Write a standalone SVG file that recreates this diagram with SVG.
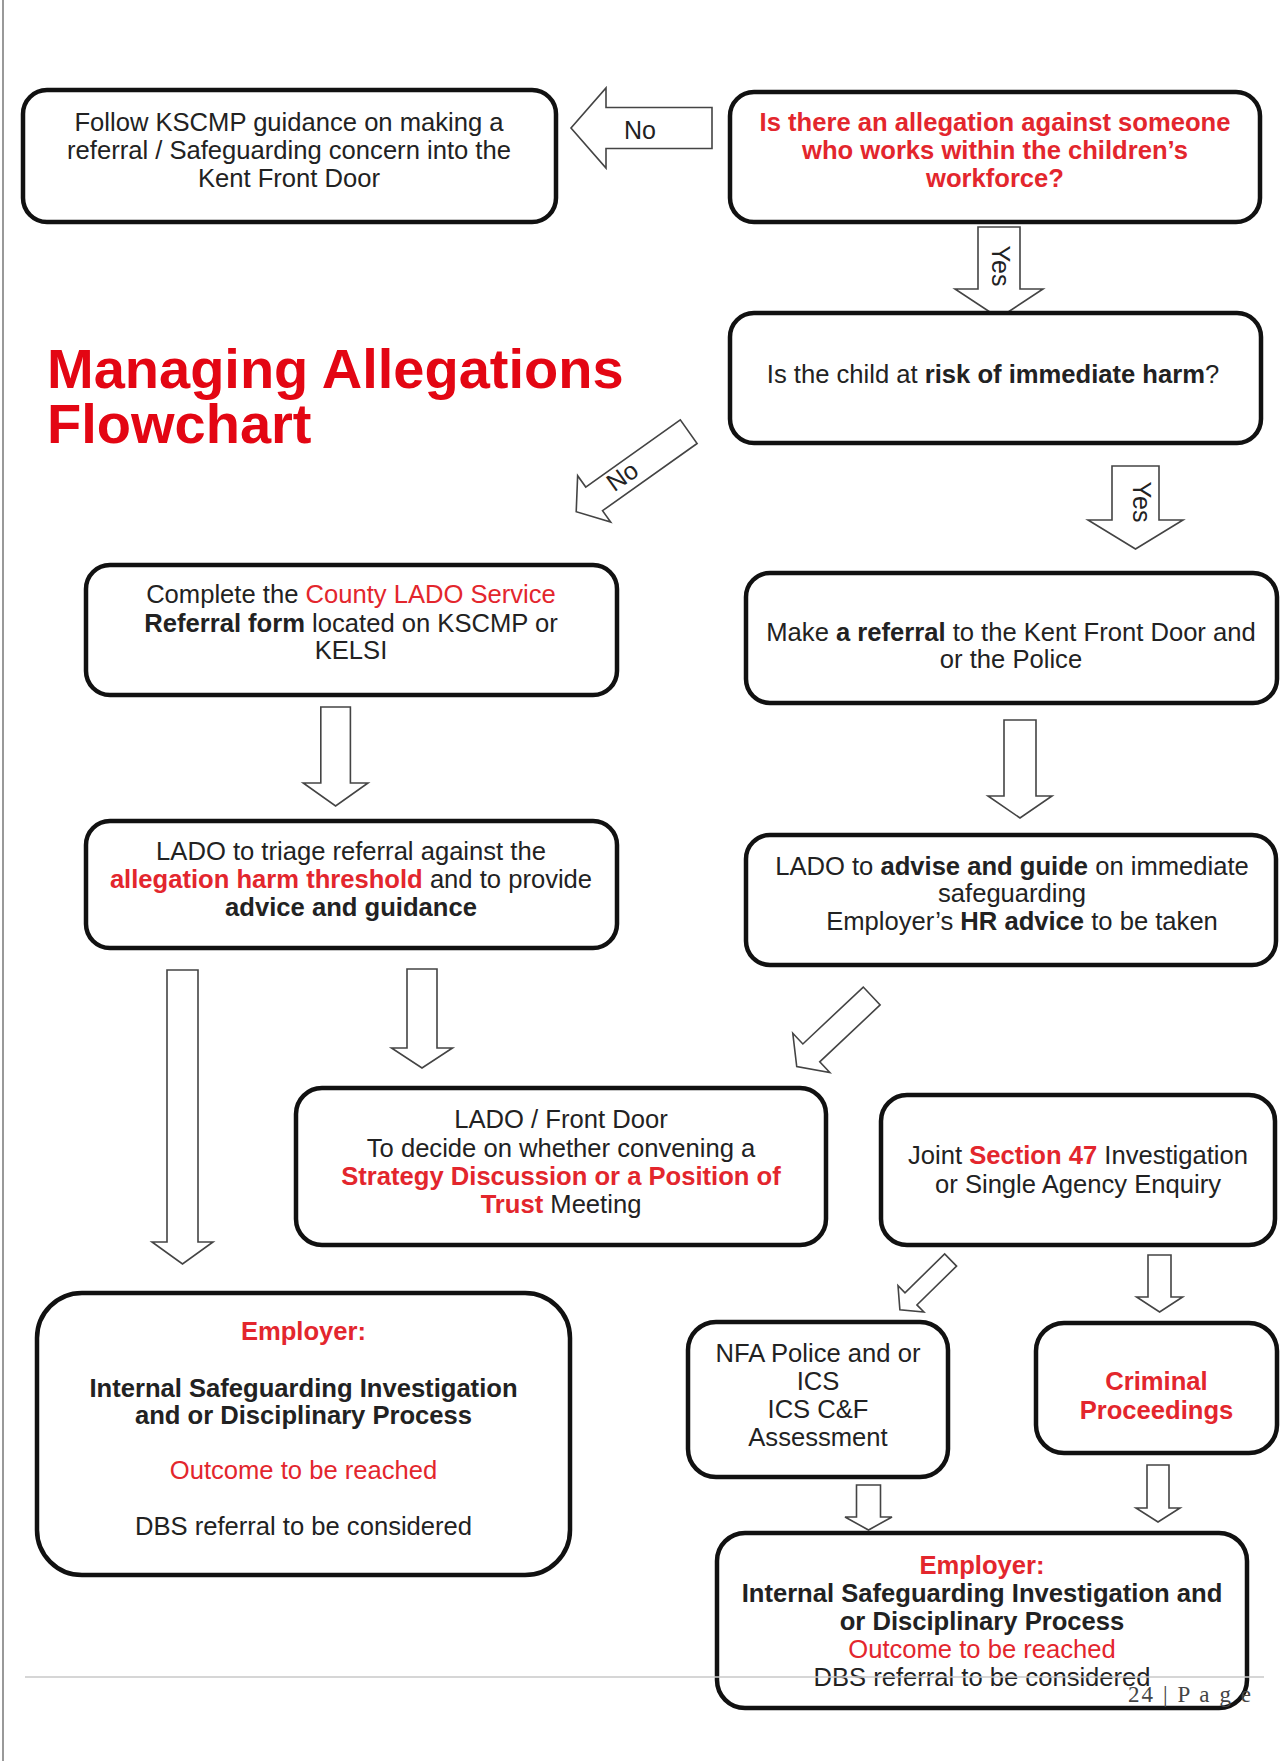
<svg xmlns="http://www.w3.org/2000/svg" width="1284" height="1761" viewBox="0 0 1284 1761">
<style>
.box{fill:#fff;stroke:#111;stroke-width:4.5}
.t{font-family:"Liberation Sans",Arial,sans-serif;font-size:25.6px;fill:#222;text-anchor:middle}
.b{font-weight:bold}
.r{fill:#e3262d}
.arr{fill:#fff;stroke:#444;stroke-width:1.6;stroke-linejoin:miter}
.lbl{font-family:"Liberation Sans",Arial,sans-serif;font-size:25px;fill:#222;text-anchor:middle}
.title{font-family:"Liberation Sans",Arial,sans-serif;font-size:56px;font-weight:bold;fill:#e30613}
</style>
<rect width="1284" height="1761" fill="#fff"/>
<line x1="3" y1="0" x2="3" y2="1761" stroke="#999" stroke-width="2"/>

<g id="title">
<text class="title" x="47" y="388">Managing Allegations<tspan x="47" dy="55">Flowchart</tspan></text>
</g>

<g id="connectors">
<polygon class="arr" points="712,107.5 606,107.5 606,88 571,128 606,168 606,148.5 712,148.5"/>
<text class="lbl" x="640" y="139">No</text>
<polygon class="arr" points="978,227 1020,227 1020,289 1043,289 999,318 955,289 978,289"/>
<text class="lbl" transform="translate(1001,266) rotate(90)" y="9">Yes</text>
<path class="arr" transform="translate(688.7,431.7) rotate(144.6)" d="M0,-14.5 L116,-14.5 L116,-28.5 L138,0 L116,28.5 L116,14.5 L0,14.5 Z"/>
<text class="lbl" transform="translate(622,476) rotate(-35.4)" y="9">No</text>
<polygon class="arr" points="1112,466 1159,466 1159,520 1183,520 1135.5,549 1088,520 1112,520"/>
<text class="lbl" transform="translate(1142,502) rotate(90)" y="9">Yes</text>
<polygon class="arr" points="320.8,707 350.4,707 350.4,783 368,783 335.6,806 303.2,783 320.8,783"/>
<polygon class="arr" points="1004,720 1036,720 1036,796 1052,796 1020,818 988,796 1004,796"/>
<polygon class="arr" points="167,970 198,970 198,1242 213,1242 182.5,1264 152,1242 167,1242"/>
<polygon class="arr" points="407,969 437,969 437,1048 452.5,1048 422,1068 391.5,1048 407,1048"/>
<path class="arr" transform="translate(871.7,996) rotate(136.7)" d="M0,-12.3 L83,-12.3 L83,-27 L103,0 L83,27 L83,12.3 L0,12.3 Z"/>
<path class="arr" transform="translate(950.6,1260) rotate(135.6)" d="M0,-8.5 L55.5,-8.5 L55.5,-18.5 L71,0 L55.5,18.5 L55.5,8.5 L0,8.5 Z"/>
<polygon class="arr" points="1148,1255 1171,1255 1171,1297 1182.6,1297 1159.6,1312 1136.6,1297 1148,1297"/>
<polygon class="arr" points="856.5,1485 880.5,1485 880.5,1517 892,1517 868.5,1530 845,1517 856.5,1517"/>
<polygon class="arr" points="1147,1465 1169,1465 1169,1508 1180,1508 1158,1522 1136,1508 1147,1508"/>
</g>

<g id="nodeA">
<rect class="box" x="23" y="90" width="533" height="132" rx="24"/>
<text class="t" x="289" y="131">Follow KSCMP guidance on making a</text>
<text class="t" x="289" y="159">referral / Safeguarding concern into the</text>
<text class="t" x="289" y="187">Kent Front Door</text>
</g>

<g id="nodeB">
<rect class="box" x="730" y="92" width="530" height="130" rx="24"/>
<text class="t b r" x="995" y="131">Is there an allegation against someone</text>
<text class="t b r" x="995" y="159">who works within the children’s</text>
<text class="t b r" x="995" y="187">workforce?</text>
</g>

<g id="nodeC">
<rect class="box" x="730" y="313" width="531" height="130" rx="24"/>
<text class="t" x="993" y="383">Is the child at <tspan class="b">risk of immediate harm</tspan>?</text>
</g>

<g id="nodeD">
<rect class="box" x="86" y="565" width="531" height="130" rx="24"/>
<text class="t" x="351" y="603">Complete the <tspan class="r">County LADO Service</tspan></text>
<text class="t" x="351" y="632"><tspan class="b">Referral form</tspan> located on KSCMP or</text>
<text class="t" x="351" y="659">KELSI</text>
</g>

<g id="nodeE">
<rect class="box" x="86" y="821" width="531" height="127" rx="24"/>
<text class="t" x="351" y="860">LADO to triage referral against the</text>
<text class="t" x="351" y="888"><tspan class="b r">allegation harm threshold</tspan> and to provide</text>
<text class="t b" x="351" y="916">advice and guidance</text>
</g>

<g id="nodeF">
<rect class="box" x="746" y="573" width="531" height="130" rx="24"/>
<text class="t" x="1011" y="641">Make <tspan class="b">a referral</tspan> to the Kent Front Door and</text>
<text class="t" x="1011" y="668">or the Police</text>
</g>

<g id="nodeG">
<rect class="box" x="746" y="835" width="530" height="130" rx="24"/>
<text class="t" x="1012" y="875">LADO to <tspan class="b">advise and guide</tspan> on immediate</text>
<text class="t" x="1012" y="902">safeguarding</text>
<text class="t" x="1022" y="930">Employer’s <tspan class="b">HR advice</tspan> to be taken</text>
</g>

<g id="nodeH">
<rect class="box" x="296" y="1088" width="530" height="157" rx="26"/>
<text class="t" x="561" y="1128">LADO / Front Door</text>
<text class="t" x="561" y="1157">To decide on whether convening a</text>
<text class="t b r" x="561" y="1185">Strategy Discussion or a Position of</text>
<text class="t" x="561" y="1213"><tspan class="b r">Trust</tspan> Meeting</text>
</g>

<g id="nodeI">
<rect class="box" x="881" y="1095" width="394" height="150" rx="26"/>
<text class="t" x="1078" y="1164">Joint <tspan class="b r">Section 47</tspan> Investigation</text>
<text class="t" x="1078" y="1193">or Single Agency Enquiry</text>
</g>

<g id="nodeJ">
<rect class="box" x="37" y="1293" width="533" height="282" rx="45"/>
<text class="t b r" x="303.5" y="1340">Employer:</text>
<text class="t b" x="303.5" y="1397">Internal Safeguarding Investigation</text>
<text class="t b" x="303.5" y="1424">and or Disciplinary Process</text>
<text class="t r" x="303.5" y="1479">Outcome to be reached</text>
<text class="t" x="303.5" y="1535">DBS referral to be considered</text>
</g>

<g id="nodeK">
<rect class="box" x="688" y="1322" width="260" height="155" rx="28"/>
<text class="t" x="818" y="1362">NFA Police and or</text>
<text class="t" x="818" y="1390">ICS</text>
<text class="t" x="818" y="1418">ICS C&amp;F</text>
<text class="t" x="818" y="1446">Assessment</text>
</g>

<g id="nodeL">
<rect class="box" x="1036" y="1323" width="241" height="130" rx="28"/>
<text class="t b r" x="1156.5" y="1390">Criminal</text>
<text class="t b r" x="1156.5" y="1419">Proceedings</text>
</g>

<g id="nodeM">
<rect class="box" x="717" y="1533" width="530" height="175" rx="28"/>
<text class="t b r" x="982" y="1574">Employer:</text>
<text class="t b" x="982" y="1602">Internal Safeguarding Investigation and</text>
<text class="t b" x="982" y="1630">or Disciplinary Process</text>
<text class="t r" x="982" y="1658">Outcome to be reached</text>
<text class="t" x="982" y="1686">DBS referral to be considered</text>
</g>

<g id="footer">
<line x1="25" y1="1677" x2="1264" y2="1677" stroke="#c8c8c8" stroke-width="1.5"/>
<text x="1128" y="1702" font-family="'Liberation Serif','Times New Roman',serif" font-size="23" fill="#444" textLength="123" lengthAdjust="spacing">24 | P a g e</text>
</g>
</svg>
